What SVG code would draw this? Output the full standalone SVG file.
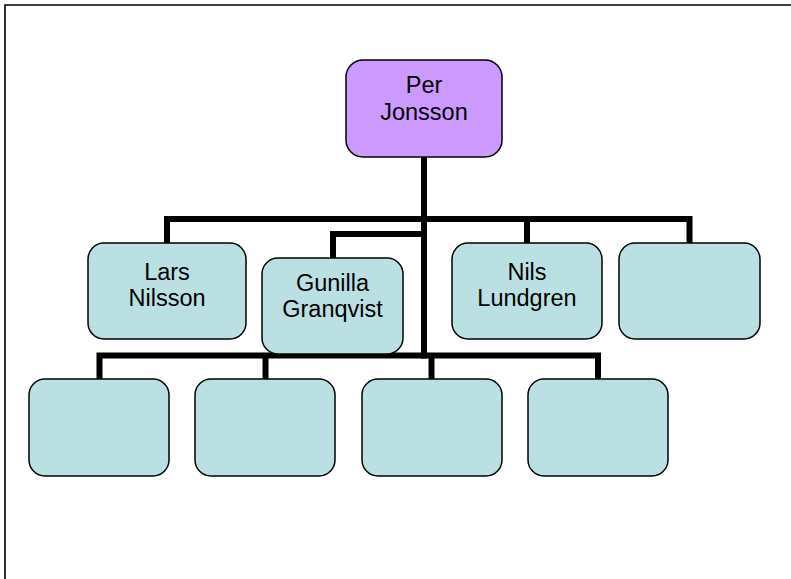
<svg xmlns="http://www.w3.org/2000/svg" width="791" height="579" viewBox="0 0 791 579">
<style>
.box{stroke:#000;stroke-width:1.5}
.top{fill:#CC99FF}
.sub{fill:#BBE0E3}
.t{font-family:"Liberation Sans",Arial,sans-serif;font-size:23.5px;fill:#000;text-anchor:middle}
.c{fill:none;stroke:#000;stroke-width:6;stroke-linejoin:miter}
</style>
<rect width="791" height="579" fill="#fff"/>
<path d="M5 590 V5 H800" fill="none" stroke="#000" stroke-width="1.6"/>
<g id="connectors">
<path class="c" d="M424 157 V358.5"/>
<path class="c" d="M167 243 V219 H689.5 V243"/>
<path class="c" d="M527 219 V243"/>
<path class="c" d="M424 234 H333 V258"/>
<path class="c" d="M99.5 379 V355.5 H598 V379"/>
<path class="c" d="M265.5 355.5 V379"/>
<path class="c" d="M431.5 355.5 V379"/>
</g>
<g id="per">
<rect class="box top" x="346" y="60" width="156" height="97" rx="17"/>
<text class="t" x="424" y="93">Per</text>
<text class="t" x="424" y="120">Jonsson</text>
</g>
<g id="lars">
<rect class="box sub" x="88" y="243" width="158" height="96" rx="16"/>
<text class="t" x="167" y="280">Lars</text>
<text class="t" x="167" y="306">Nilsson</text>
</g>
<g id="gunilla">
<rect class="box sub" x="262" y="258" width="141" height="96" rx="16"/>
<text class="t" x="332.5" y="291">Gunilla</text>
<text class="t" x="332.5" y="317">Granqvist</text>
</g>
<g id="nils">
<rect class="box sub" x="452" y="243" width="150" height="96" rx="16"/>
<text class="t" x="527" y="280">Nils</text>
<text class="t" x="527" y="306">Lundgren</text>
</g>
<g id="empty1">
<rect class="box sub" x="619" y="243" width="141" height="96" rx="16"/>
</g>
<g id="empty2">
<rect class="box sub" x="29" y="379" width="140" height="97" rx="16"/>
</g>
<g id="empty3">
<rect class="box sub" x="195" y="379" width="140" height="97" rx="16"/>
</g>
<g id="empty4">
<rect class="box sub" x="362" y="379" width="140" height="97" rx="16"/>
</g>
<g id="empty5">
<rect class="box sub" x="528" y="379" width="140" height="97" rx="16"/>
</g>
</svg>
